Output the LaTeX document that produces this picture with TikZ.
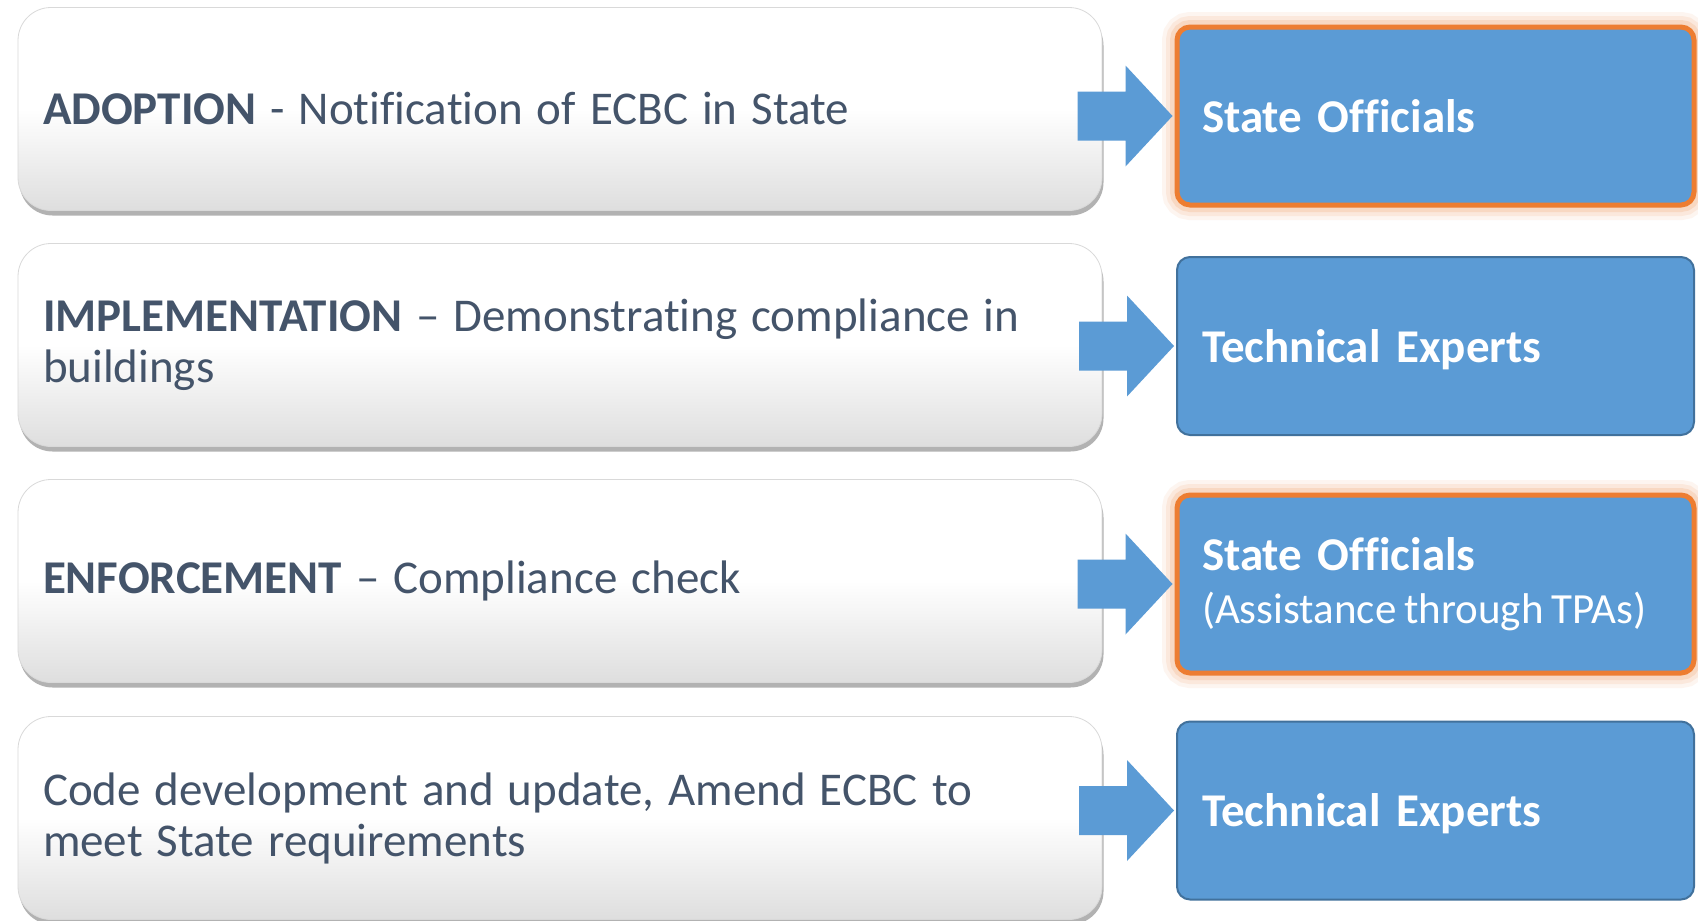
\documentclass[tikz,border=0pt]{standalone}
\usepackage{fontspec}
\setmainfont{Carlito}[Ligatures={TeX,NoCommon}]
\usetikzlibrary{shadows,calc}
\definecolor{txt}{HTML}{44546A}
\definecolor{acc}{HTML}{5B9BD5}
\definecolor{accb}{HTML}{41719C}
\definecolor{org}{HTML}{ED7D31}
\newcommand\myStageFont{\fontsize{47}{51}\selectfont}
\newcommand\myActorFont{\fontsize{47}{53}\selectfont\bfseries}
\newcommand\myNoteFont{\mdseries\fontsize{43}{53}\selectfont\spaceskip 8pt plus 1pt minus 1pt\relax}
\begin{document}
\begin{tikzpicture}[x=1pt,y=-1pt,
  stage/.style={rounded corners=33pt, draw=black!15, line width=0.8pt,
    top color=white, bottom color=black!13, middle color=white,
    drop shadow={shadow xshift=1.5pt, shadow yshift=-5pt, opacity=0.4, fill=black!75},
    minimum width=1084pt, minimum height=203pt, text width=1034pt,
    inner xsep=25pt, inner ysep=0pt, align=left, text=txt,
    font=\myStageFont, execute at begin node={\spaceskip 14pt plus 1pt minus 1pt\relax}},
  actor/.style={rounded corners=13pt, fill=acc, draw=accb, line width=2pt,
    minimum width=517pt, minimum height=178pt, text width=467pt,
    inner xsep=25pt, inner ysep=0pt, align=left, text=white,
    font=\myActorFont},
  oneline/.style={text depth=0pt},
  lead/.style={draw=org, line width=5pt,
    preaction={draw=org, draw opacity=0.07, line width=30pt},
    preaction={draw=org, draw opacity=0.10, line width=22pt},
    preaction={draw=org, draw opacity=0.15, line width=14pt}},
  pics/barrow/.style={code={
    \fill[acc] (0,0) -- (-47,-50.5) -- (-47,-24.5) -- (-95,-24.5)
      -- (-95,24.5) -- (-47,24.5) -- (-47,50.5) -- cycle;}}
]
\fill[white] (0,0) rectangle (1698,921);
\useasboundingbox (0,0) rectangle (1698,921);

\node[stage] (l1) at (560,109) {\textbf{ADOPTION} - Notification of ECBC in State};
\node[stage] (l2) at (560,345) {\textbf{IMPLEMENTATION} -- Demonstrating compliance in\\buildings};
\node[stage] (l3) at (560,581) {\textbf{ENFORCEMENT} -- Compliance check};
\node[stage] (l4) at (560,818) {Code development and update, Amend ECBC to\\meet State requirements};

\node[actor,lead,oneline] (r1) at (1435.5,116) {State Officials};
\node[actor,oneline] (r2) at (1435.5,346) {Technical Experts};
\node[actor,lead] (r3) at (1435.5,584) {State Officials\\{\myNoteFont (Assistance through TPAs)}};
\node[actor,oneline] (r4) at (1435.5,810.5) {Technical Experts};

\pic at ($(r1.west)+(-2,0)$) {barrow};
\pic at ($(r2.west)+(-2,0)$) {barrow};
\pic at ($(r3.west)+(-2,0)$) {barrow};
\pic at ($(r4.west)+(-2,0)$) {barrow};
\end{tikzpicture}
\end{document}
